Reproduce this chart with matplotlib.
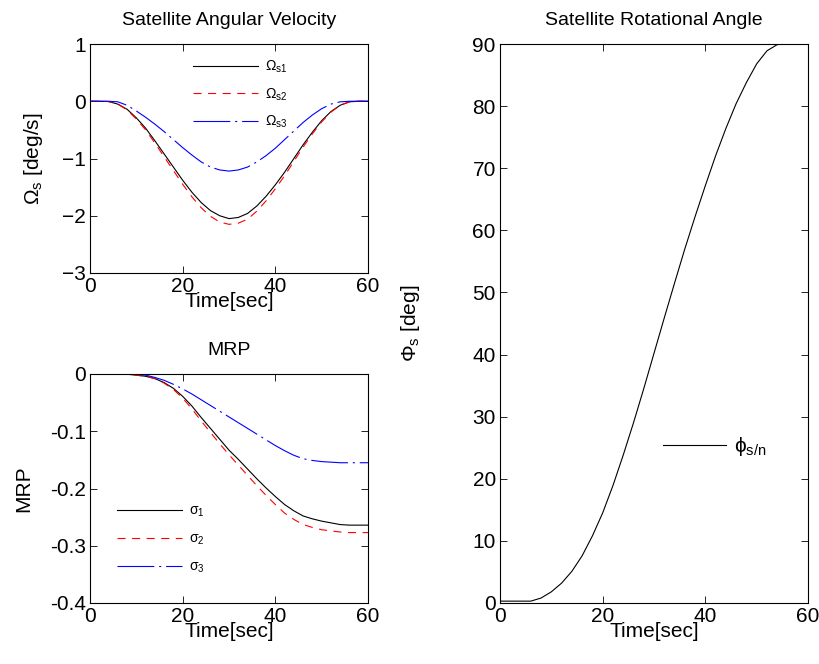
import matplotlib
matplotlib.use("Agg")
import matplotlib.pyplot as plt

plt.rcParams['font.family'] = ['Liberation Sans', 'DejaVu Sans']
plt.rcParams['mathtext.fontset'] = 'custom'
plt.rcParams['mathtext.rm'] = 'Liberation Sans'
plt.rcParams['mathtext.it'] = 'Liberation Sans:italic'
plt.rcParams['lines.scale_dashes'] = False

# ---- data (every 2 s) ----
t = list(range(0, 61, 2))

omega_s1 = [0, 0, -0.005, -0.05, -0.14, -0.29, -0.47, -0.69, -0.92, -1.15, -1.38,
            -1.59, -1.77, -1.91, -2.00, -2.05, -2.03, -1.96, -1.83, -1.66, -1.46,
            -1.24, -1.00, -0.76, -0.54, -0.34, -0.18, -0.07, -0.01, 0, 0]
omega_s2 = [0, 0, -0.005, -0.05, -0.15, -0.31, -0.50, -0.73, -0.97, -1.21, -1.45,
            -1.67, -1.86, -2.01, -2.11, -2.15, -2.13, -2.06, -1.92, -1.74, -1.53,
            -1.30, -1.05, -0.80, -0.57, -0.36, -0.19, -0.07, -0.01, 0, 0]
omega_s3 = [0, 0, 0, -0.01, -0.07, -0.17, -0.28, -0.40, -0.53, -0.67, -0.81,
            -0.94, -1.06, -1.15, -1.20, -1.22, -1.20, -1.15, -1.06, -0.95, -0.82,
            -0.67, -0.52, -0.37, -0.24, -0.13, -0.05, -0.01, 0, 0, 0]

sigma_1 = [0, 0, 0, 0, -0.0005, -0.002, -0.004, -0.008, -0.015, -0.025, -0.039,
           -0.056, -0.076, -0.095, -0.114, -0.133, -0.149, -0.166, -0.183, -0.199, -0.214,
           -0.228, -0.239, -0.248, -0.253, -0.257, -0.260, -0.263, -0.264, -0.264, -0.264]
sigma_2 = [0, 0, 0, 0, -0.0005, -0.002, -0.004, -0.008, -0.016, -0.027, -0.042,
           -0.061, -0.082, -0.102, -0.122, -0.141, -0.159, -0.177, -0.195, -0.212, -0.228,
           -0.243, -0.254, -0.263, -0.268, -0.272, -0.274, -0.276, -0.277, -0.277, -0.277]
sigma_3 = [0, 0, 0, 0, 0, -0.001, -0.002, -0.006, -0.011, -0.018, -0.026,
           -0.035, -0.045, -0.055, -0.065, -0.075, -0.085, -0.095, -0.105, -0.115, -0.125,
           -0.134, -0.142, -0.148, -0.151, -0.153, -0.154, -0.155, -0.155, -0.155, -0.155]

phi = [0.3, 0.3, 0.3, 0.3, 0.8, 1.8, 3.2, 5.1, 7.6, 10.8, 14.5,
       18.9, 23.8, 29.0, 34.5, 40.2, 45.9, 51.5, 57.0, 62.2, 67.2,
       72.0, 76.4, 80.4, 83.8, 86.8, 88.9, 89.9, 90, 90, 90]

W, H = 819, 664
fig = plt.figure(figsize=(W / 100, H / 100), dpi=100)

def box(x0, y0, x1, y1):
    # pixel box (top-left origin) -> figure fraction
    return [x0 / W, 1 - y1 / H, (x1 - x0) / W, (y1 - y0) / H]

ax1 = fig.add_axes(box(90, 44, 368, 273))
ax2 = fig.add_axes(box(90, 374, 368, 603))
ax3 = fig.add_axes(box(500, 44, 808, 603))

LW = 0.8
FS = 14
red_dash = (0, (5.8, 4.7))
blue_dashdot = (0, (26.5, 3.5, 1.5, 3.5))

# angular velocity
ax1.plot(t, omega_s1, color='black', lw=LW, label=r'$\Omega_{\rm s1}$')
ax1.plot(t, omega_s2, color='red', lw=LW, linestyle=red_dash, label=r'$\Omega_{\rm s2}$')
ax1.plot(t, omega_s3, color='blue', lw=LW, linestyle=blue_dashdot, label=r'$\Omega_{\rm s3}$')
ax1.set_xlim(0, 60)
ax1.set_ylim(-3, 1)
ax1.set_xticks([0, 20, 40, 60])
ax1.set_yticks([-3, -2, -1, 0, 1])
ax1.set_title('Satellite Angular Velocity', fontsize=FS, pad=14)
ax1.set_xlabel('Time[sec]', fontsize=15, labelpad=-3)
ax1.set_ylabel(r'$\Omega_{\rm s}$ [deg/s]', fontsize=15, labelpad=12)
ax1.legend(loc='upper left', bbox_to_anchor=(193 / W, 1 - 59 / H), bbox_transform=fig.transFigure,
           frameon=False, fontsize=10, handlelength=4.7, handletextpad=0.5,
           labelspacing=0.78, borderpad=0, borderaxespad=0)

# MRP
ax2.plot(t, sigma_1, color='black', lw=LW, label=r'$\mathrm{\sigma}_{\rm 1}$')
ax2.plot(t, sigma_2, color='red', lw=LW, linestyle=red_dash, label=r'$\mathrm{\sigma}_{\rm 2}$')
ax2.plot(t, sigma_3, color='blue', lw=LW, linestyle=blue_dashdot, label=r'$\mathrm{\sigma}_{\rm 3}$')
ax2.set_xlim(0, 60)
ax2.set_ylim(-0.4, 0)
ax2.set_xticks([0, 20, 40, 60])
ax2.set_yticks([-0.4, -0.3, -0.2, -0.1, 0])
ax2.set_yticklabels(['-0.4', '-0.3', '-0.2', '-0.1', '0'])
ax2.set_title('MRP', fontsize=FS, pad=14)
ax2.set_xlabel('Time[sec]', fontsize=15, labelpad=-3)
ax2.set_ylabel('MRP', fontsize=15)
ax2.yaxis.set_label_coords(-0.205, 0.5)
ax2.legend(loc='upper left', bbox_to_anchor=(117 / W, 1 - 504 / H), bbox_transform=fig.transFigure,
           frameon=False, fontsize=10, handlelength=4.7, handletextpad=0.5,
           labelspacing=0.9, borderpad=0, borderaxespad=0)

# rotational angle
ax3.plot(t, phi, color='black', lw=LW, label=r'$\mathrm{\phi}_{\rm s/n}$')
ax3.set_xlim(0, 60)
ax3.set_ylim(0, 90)
ax3.set_xticks([0, 20, 40, 60])
ax3.set_yticks(range(0, 91, 10))
ax3.set_title('Satellite Rotational Angle', fontsize=FS, pad=14)
ax3.set_xlabel('Time[sec]', fontsize=15, labelpad=-3)
ax3.set_ylabel(r'$\Phi_{\rm s}$ [deg]', fontsize=15, labelpad=36)
ax3.legend(loc='center left', bbox_to_anchor=(663 / W, 1 - 447 / H), bbox_transform=fig.transFigure,
           frameon=False, fontsize=15, handlelength=3.0, handletextpad=0.4,
           borderpad=0, borderaxespad=0)

for ax in (ax1, ax2, ax3):
    ax.tick_params(direction='in', top=True, right=True, length=5, width=0.6,
                   labelsize=15, pad=3)
    for s in ax.spines.values():
        s.set_linewidth(0.8)

fig.savefig('out.png', dpi=100)
